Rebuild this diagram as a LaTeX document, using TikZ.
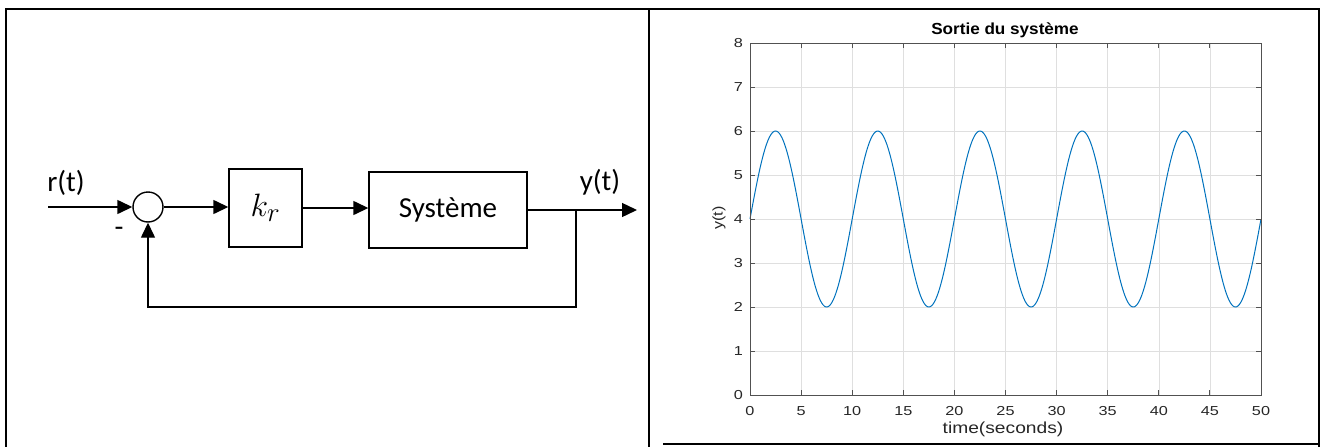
\documentclass[tikz,border=0pt]{standalone}
\usepackage{fontspec}
\usepackage{graphicx}
\setmainfont{Carlito}
\newfontfamily\arialf{Liberation Sans}
\usetikzlibrary{arrows.meta}
\definecolor{mblue}{RGB}{0,114,189}
\definecolor{axgray}{RGB}{38,38,38}
\newcommand{\wide}[1]{\scalebox{1.25}[1]{#1}}
\tikzset{
  frame/.style={line width=2.2pt, line cap=rect},
  wire/.style={line width=1.4pt},
  arr/.style={wire, -{Triangle[length=15pt,width=14pt]}},
  blk/.style={draw, line width=1.4pt, inner sep=0pt, font=\fontsize{29}{34}\selectfont},
  sumc/.style={draw, line width=1.4pt, circle, minimum size=30pt, inner sep=0pt},
  lbl/.style={font=\fontsize{29}{34}\selectfont, inner sep=0pt},
  tick/.style={font=\arialf\fontsize{13}{15}\selectfont, text=axgray, inner sep=0pt},
  gridl/.style={line width=0.5pt, draw=gray!25},
  axl/.style={line width=0.9pt, draw=axgray!80}
}
\begin{document}
\begin{tikzpicture}[x=1pt,y=-1pt]
\useasboundingbox (0,0) rectangle (1320,447);
% frame
\draw[frame] (6,447) -- (6,9) -- (1319,9) -- (1319,447);
\draw[frame] (649,9) -- (649,447);
\draw[frame] (664,444) -- (1319,444);

% block diagram
\node[sumc] (s) at (148,207) {};
\node[blk, minimum width=73pt, minimum height=78pt] (k) at (265.5,208) {\scalebox{1.3}{$k_r$}};
\node[blk, minimum width=158pt, minimum height=76pt] (sys) at (448,210) {Système};
\coordinate (in) at (48,207);
\coordinate (out) at (637,210);
\coordinate (br) at (576,210);
\coordinate (fb) at (576,307);
\node[lbl] (rt) at (66,183) {r(t)};
\node[lbl] (yt) at (600,182) {y(t)};
\node[lbl] (minus) at (119,232) {-};
\draw[arr] (in) -- (s.west);
\draw[arr] (s.east) -- (s.east -| k.west);
\draw[arr] (k.east) -- (k.east -| sys.west);
\draw[arr] (sys.east) -- (out);
\draw[arr] (br) -- (fb) -| (s.south);

% plot grid
\foreach \i in {1,...,9} {\draw[gridl] ({750+10.22*5*\i},43) -- ({750+10.22*5*\i},395);}
\foreach \j in {1,...,7} {\draw[gridl] (750,{395-44*\j}) -- (1261,{395-44*\j});}
% curve
\draw[mblue, line width=1pt] plot[domain=0:50, samples=400, smooth] ({750+10.22*\x},{395-44*(4+2*sin(36*\x))});
% axes box
\draw[axl] (750,43) rectangle (1261,395);
\foreach \i in {1,...,9} {
  \draw[axl] ({750+10.22*5*\i},395) -- ({750+10.22*5*\i},390);
  \draw[axl] ({750+10.22*5*\i},43) -- ({750+10.22*5*\i},48);
}
\foreach \j in {1,...,7} {
  \draw[axl] (750,{395-44*\j}) -- (755,{395-44*\j});
  \draw[axl] (1261,{395-44*\j}) -- (1256,{395-44*\j});
}
% tick labels
\foreach \i in {0,...,10} {
  \pgfmathtruncatemacro{\v}{5*\i}
  \node[tick] (xt\i) at ({750+10.22*5*\i},411) {\wide{\v}};
}
\foreach \j in {0,...,8} {
  \node[tick, anchor=east] (yt\j) at (743,{395-44*\j}) {\wide{\j}};
}
\node[font=\arialf\bfseries\fontsize{16}{19}\selectfont, inner sep=0pt] (title) at (1005,30) {\scalebox{1.07}[1]{Sortie du système}};
\node[tick, font=\arialf\fontsize{14}{16}\selectfont, rotate=90] (ylab) at (719,218) {\scalebox{1.15}[1]{y(t)}};
\node[tick, font=\arialf\fontsize{16}{19}\selectfont] (xlab) at (1003,429) {\scalebox{1.2}[1]{time(seconds)}};
\end{tikzpicture}
\end{document}
